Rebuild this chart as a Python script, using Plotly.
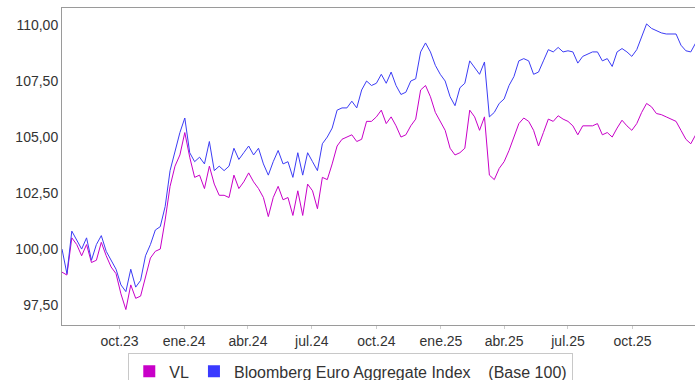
import plotly.graph_objects as go
import pandas as pd

# weekly observations, base 100
dates = pd.date_range("2023-07-11", periods=130, freq="7D")

vl = [
    98.97, 98.84, 100.5, 100.2, 99.7, 100.2, 99.4, 99.5, 100.3, 99.7,
    99.2, 98.9, 98.0, 97.3, 98.4, 97.8, 97.9, 98.8, 99.6, 99.9,
    100.0, 101.3, 102.8, 103.7, 104.2, 105.2, 104.1, 103.2, 103.3, 102.7,
    103.7, 102.9, 102.4, 102.4, 102.3, 103.3, 102.7, 103.0, 103.4, 103.0,
    102.7, 102.3, 101.45, 102.3, 102.8, 102.2, 102.3, 101.5, 102.6, 101.5,
    102.9, 102.6, 101.8, 103.2, 103.1, 103.8, 104.6, 104.9, 105.0, 105.1,
    104.8, 104.9, 105.7, 105.7, 105.9, 106.2, 105.6, 105.9, 105.5, 105.0,
    105.1, 105.5, 105.8, 107.1, 107.3, 106.8, 106.1, 105.67, 105.3, 104.5,
    104.2, 104.3, 104.5, 106.2, 105.9, 105.3, 105.9, 103.3, 103.1, 103.6,
    103.9, 104.4, 105.0, 105.6, 105.85, 105.7, 105.3, 104.6, 105.2, 105.8,
    105.7, 105.95, 105.8, 105.7, 105.5, 105.1, 105.5, 105.5, 105.5, 105.6,
    105.1, 105.2, 105.0, 105.4, 105.75, 105.5, 105.3, 105.6, 106.1, 106.5,
    106.35, 106.05, 106.0, 105.9, 105.8, 105.7, 105.3, 104.9, 104.7, 105.1,
]

bloomberg = [
    100.0, 98.9, 100.8, 100.4, 100.0, 100.5, 99.5, 100.2, 100.6, 99.9,
    99.5, 99.1, 98.4, 98.1, 99.1, 98.3, 98.6, 99.7, 100.2, 100.85,
    101.0, 101.9, 103.5, 104.4, 105.2, 105.85, 104.3, 103.9, 104.1, 103.8,
    104.8, 103.5, 103.7, 103.5, 103.7, 104.5, 104.0, 104.3, 104.6, 104.2,
    104.5, 103.8, 103.3, 103.9, 104.4, 103.8, 103.9, 103.2, 104.3, 103.3,
    104.3, 103.9, 103.5, 104.7, 105.0, 105.4, 106.2, 106.3, 106.3, 106.6,
    106.3, 107.1, 107.5, 107.3, 107.4, 107.8, 107.4, 107.9, 107.3, 106.9,
    107.0, 107.5, 107.6, 108.8, 109.2, 108.8, 108.2, 107.8, 107.5, 106.8,
    106.4, 107.2, 107.4, 108.4, 108.1, 107.8, 108.35, 105.9, 106.1, 106.5,
    106.7, 107.3, 107.7, 108.4, 108.5, 108.4, 107.8, 107.9, 108.4, 108.9,
    108.8, 109.0, 108.8, 108.85, 108.8, 108.3, 108.6, 108.7, 108.8, 108.8,
    108.4, 108.5, 108.15, 108.8, 108.95, 108.8, 108.6, 108.9, 109.5, 110.05,
    109.85, 109.75, 109.65, 109.6, 109.6, 109.6, 109.1, 108.85, 108.8, 109.2,
]

x_tickvals = ["2023-10-01", "2024-01-01", "2024-04-01", "2024-07-01", "2024-10-01",
              "2025-01-01", "2025-04-01", "2025-07-01", "2025-10-01"]
x_ticktext = ["oct.23", "ene.24", "abr.24", "jul.24", "oct.24",
              "ene.25", "abr.25", "jul.25", "oct.25"]
y_tickvals = [97.5, 100, 102.5, 105, 107.5, 110]
y_ticktext = ["97,50", "100,00", "102,50", "105,00", "107,50", "110,00"]

MAGENTA = "#c800c8"
BLUE = "#3c3cf5"

fig = go.Figure()
fig.add_trace(go.Scatter(x=dates, y=vl, mode="lines", line=dict(color=MAGENTA, width=1),
                         showlegend=False, hoverinfo="skip"))
fig.add_trace(go.Scatter(x=dates, y=bloomberg, mode="lines", line=dict(color=BLUE, width=1),
                         showlegend=False, hoverinfo="skip"))

# legend entries drawn as filled squares
fig.add_trace(go.Scatter(x=[None], y=[None], mode="markers", name="VL",
                         marker=dict(symbol="square", size=13, color=MAGENTA)))
fig.add_trace(go.Scatter(x=[None], y=[None], mode="markers",
                         name="Bloomberg Euro Aggregate Index\u00a0\u00a0\u00a0\u00a0(Base 100)",
                         marker=dict(symbol="square", size=13, color="#3a3aff")))

fig.update_xaxes(
    range=["2023-07-11", "2025-12-29"],
    tickmode="array", tickvals=x_tickvals, ticktext=x_ticktext,
    showgrid=False, zeroline=False,
    showline=True, linecolor="#9a9a9a", linewidth=1, mirror=True,
    ticks="outside", ticklen=3, tickcolor="#cccccc",
    tickfont=dict(size=14, color="#333333"),
)
fig.update_yaxes(
    range=[96.61, 110.76],
    tickmode="array", tickvals=y_tickvals, ticktext=y_ticktext,
    showgrid=False, zeroline=False,
    showline=True, linecolor="#9a9a9a", linewidth=1,
    tickfont=dict(size=14, color="#333333"),
)

fig.update_layout(
    width=696, height=380,
    margin=dict(l=62, r=1, t=8, b=55, autoexpand=False),
    plot_bgcolor="white", paper_bgcolor="white",
    font=dict(family="Liberation Sans, Arial, sans-serif", color="#333333"),
    legend=dict(
        orientation="h", xref="container", yref="container",
        x=0.504, xanchor="center", y=0.07, yanchor="top",
        bordercolor="#c8c8c8", borderwidth=1,
        font=dict(size=16, color="#333333"),
        itemsizing="constant", tracegroupgap=0,
    ),
)

# drop the default page margin so the figure sits at the window corner
fig.write_html("out.html", config={"displayModeBar": False},
               post_script="document.body.style.margin='0';")
